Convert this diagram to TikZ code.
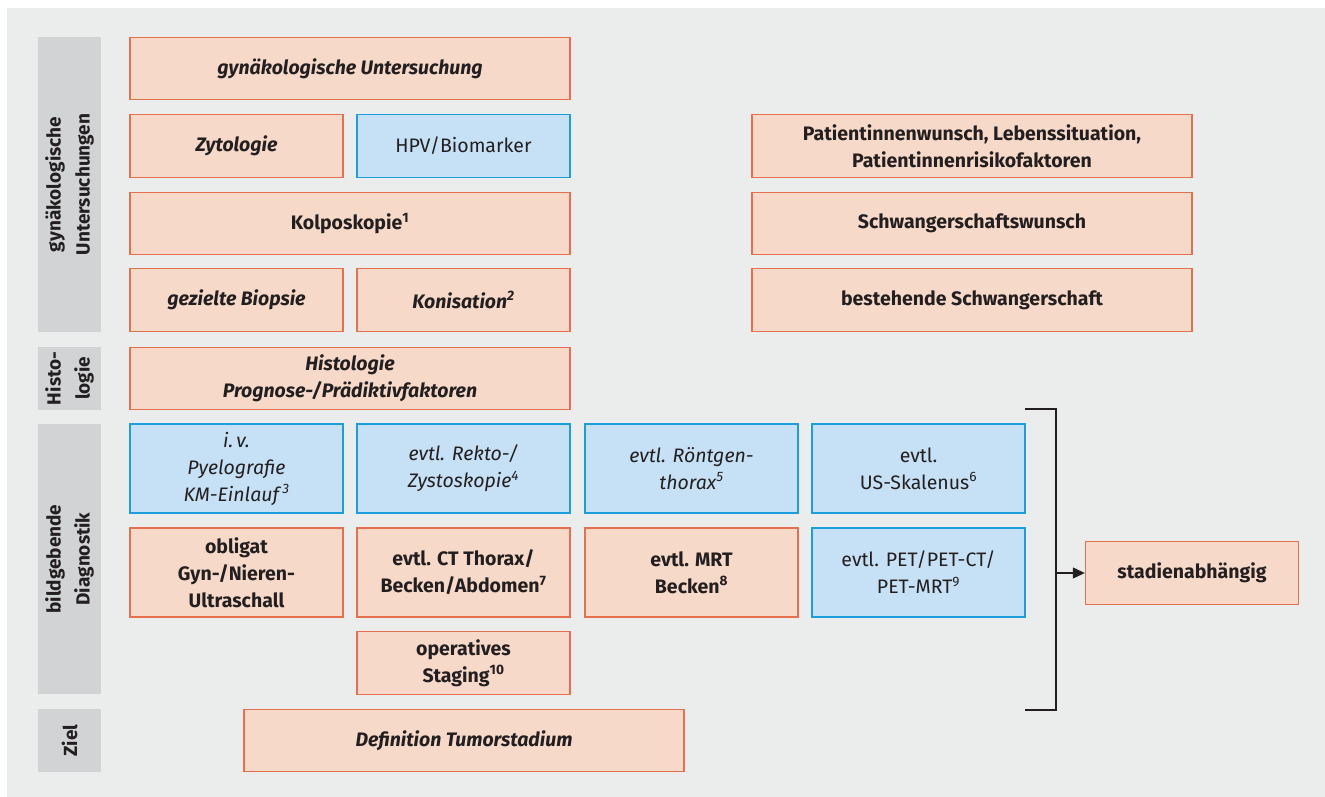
\documentclass[tikz,border=0pt]{standalone}
\usepackage{fontspec}
\setmainfont{Fira Sans}
\usetikzlibrary{arrows.meta}
\definecolor{panel}{RGB}{235,236,236}
\definecolor{lblgray}{RGB}{210,211,213}
\definecolor{ofill}{RGB}{246,217,200}
\definecolor{odraw}{RGB}{230,112,78}
\definecolor{bfill}{RGB}{198,225,245}
\definecolor{bdraw}{RGB}{28,158,220}
\definecolor{txt}{RGB}{35,31,32}
\tikzset{
  base/.style={rectangle, line width=1.4pt, align=center, text=txt, inner sep=2pt,
    font=\fontsize{19.5}{27}\selectfont},
  obox/.style={base, draw=odraw, fill=ofill},
  bbox/.style={base, draw=bdraw, fill=bfill},
  wide/.style={minimum width=440pt},
  narrow/.style={minimum width=213pt},
  short/.style={minimum height=62.5pt},
  tall/.style={minimum height=89pt},
  sidelbl/.style={rectangle, fill=lblgray, minimum width=63pt, text=txt, align=center,
    font=\fontsize{19}{29}\selectfont\bfseries, rotate=90, inner sep=0pt},
  conn/.style={line width=1.2pt, draw=txt}
}
\begin{document}
\begin{tikzpicture}[x=1pt,y=-1pt]
\useasboundingbox (0,0) rectangle (1325,797);
\fill[white] (0,0) rectangle (1325,797);
\fill[panel] (7,8) rectangle (1325,797);
% side labels (rotated: minimum width is along text = vertical extent)
\node[sidelbl, minimum width=295pt, minimum height=63pt] (s1) at (69.5,184.5) {gynäkologische\\Untersuchungen};
\node[sidelbl, minimum width=63pt, minimum height=63pt] (s2) at (69.5,378.5) {Histo-\\logie};
\node[sidelbl, minimum width=270pt, minimum height=63pt] (s3) at (69.5,559) {bildgebende\\Diagnostik};
\node[sidelbl, minimum width=63pt, minimum height=63pt] (s4) at (69.5,740.5) {Ziel};
% gynecological
\node[obox, wide, short] (gyn) at (350,68.5) {\bfseries\itshape gynäkologische Untersuchung};
\node[obox, narrow, short] (zyt) at (236.5,146) {\bfseries\itshape Zytologie};
\node[bbox, narrow, short] (hpv) at (463.5,146) {HPV/Biomarker};
\node[obox, wide, short] (kolpo) at (350,223.5) {\bfseries Kolposkopie\textsuperscript{1}};
\node[obox, narrow, short] (biop) at (236.5,300) {\bfseries\itshape gezielte Biopsie};
\node[obox, narrow, short] (konis) at (463.5,300) {\bfseries\itshape Konisation\textsuperscript{2}};
% right column
\node[obox, wide, short] (pat) at (972,146) {\bfseries Patientinnenwunsch, Lebenssituation,\\\bfseries Patientinnenrisikofaktoren};
\node[obox, wide, short] (swunsch) at (972,223.5) {\bfseries Schwangerschaftswunsch};
\node[obox, wide, short] (sbest) at (972,300) {\bfseries bestehende Schwangerschaft};
% histology
\node[obox, wide, short] (histo) at (350,378.5) {\bfseries\itshape Histologie\\\bfseries\itshape Prognose-/Prädiktivfaktoren};
% imaging row 1
\node[bbox, narrow, tall] (iv) at (236.5,468.5) {\itshape i.\,v.\\\itshape Pyelografie\\\itshape KM-Einlauf\,\textsuperscript{3}};
\node[bbox, narrow, tall] (rekto) at (463.5,468.5) {\itshape evtl. Rekto-/\\\itshape Zystoskopie\textsuperscript{4}};
\node[bbox, narrow, tall] (roent) at (691.5,468.5) {\itshape evtl. Röntgen-\\\itshape thorax\textsuperscript{5}};
\node[bbox, narrow, tall] (us) at (918.5,468.5) {evtl.\\US-Skalenus\textsuperscript{6}};
% imaging row 2
\node[obox, narrow, tall] (obl) at (236.5,572.5) {\bfseries obligat\\\bfseries Gyn-/Nieren-\\\bfseries Ultraschall};
\node[obox, narrow, tall] (ct) at (463.5,572.5) {\bfseries evtl. CT Thorax/\\\bfseries Becken/Abdomen\textsuperscript{7}};
\node[obox, narrow, tall] (mrt) at (691.5,572.5) {\bfseries evtl. MRT\\\bfseries Becken\textsuperscript{8}};
\node[bbox, narrow, tall] (pet) at (918.5,572.5) {evtl. PET/PET-CT/\\PET-MRT\textsuperscript{9}};
% imaging row 3
\node[obox, narrow, short] (op) at (463.5,663) {\bfseries operatives\\\bfseries Staging\textsuperscript{10}};
% goal
\node[obox, wide, short] (ziel) at (464,740.5) {\bfseries\itshape Definition Tumorstadium};
% staging
\node[obox, narrow, short] (stad) at (1192,573) {\bfseries stadienabhängig};
% bracket
\coordinate (bt0) at (1025,409);
\coordinate (bt1) at (1056,409);
\coordinate (bb1) at (1056,710);
\coordinate (bb0) at (1025,710);
\coordinate (bm) at (1056,573);
\draw[conn] (bt0) -- (bt1) -- (bb1) -- (bb0);
\draw[conn, -{Triangle[length=12pt,width=11pt]}] (bm) -- (stad.west);
\end{tikzpicture}
\end{document}
